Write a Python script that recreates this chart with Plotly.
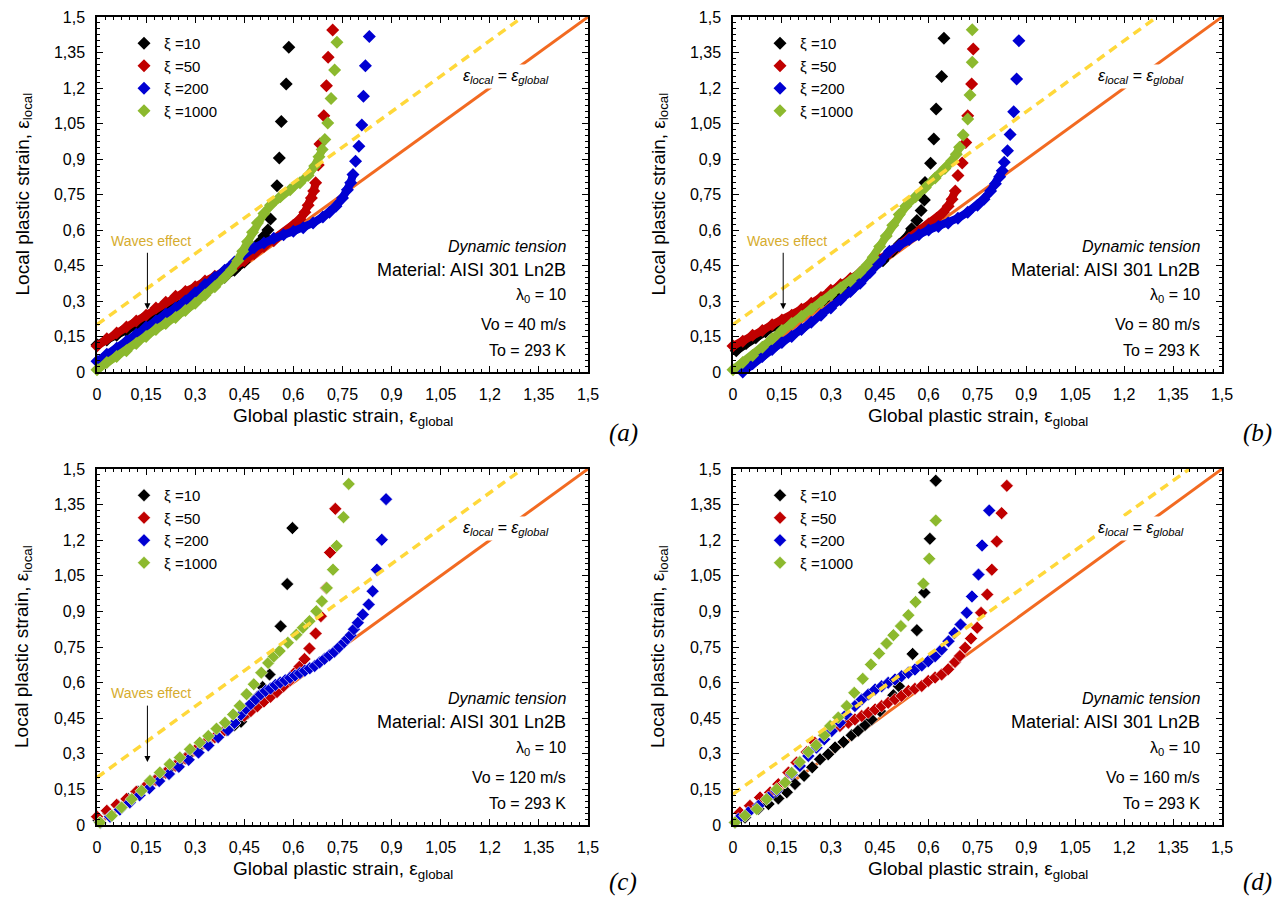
import plotly.graph_objects as go

# ---------------- shared labels ----------------
TICK_VALS = [0, 0.15, 0.3, 0.45, 0.6, 0.75, 0.9, 1.05, 1.2, 1.35, 1.5]
TICK_TEXT = ["0", "0,15", "0,3", "0,45", "0,6", "0,75", "0,9", "1,05", "1,2", "1,35", "1,5"]
SERIES_NAMES = ["ξ =10", "ξ =50", "ξ =200", "ξ =1000"]
PANEL_LABELS = ["(a)", "(b)", "(c)", "(d)"]
IMPACT_VELOCITY = ["40", "80", "120", "160"]

# reference lines
EQ_X = [0, 1.5]
EQ_Y = [0, 1.5]
WAVE_X_ABC = [0, 1.3]
WAVE_Y_ABC = [0.2, 1.5]
WAVE_X_D = [0, 1.40]
WAVE_Y_D = [0.13, 1.5]

# ---------------- panel (a): Vo = 40 m/s ----------------
A10_DENSE_X = [0.00, 0.03, 0.06, 0.09, 0.12, 0.15, 0.18, 0.21, 0.24, 0.27, 0.30, 0.33, 0.36, 0.39, 0.42, 0.45, 0.47, 0.49, 0.51]
A10_DENSE_Y = [0.115, 0.135, 0.155, 0.175, 0.195, 0.215, 0.235, 0.255, 0.275, 0.30, 0.325, 0.35, 0.375, 0.40, 0.43, 0.465, 0.50, 0.54, 0.575]
A10_SPARSE_X = [0.522, 0.530, 0.550, 0.557, 0.563, 0.578, 0.586]
A10_SPARSE_Y = [0.60, 0.646, 0.787, 0.904, 1.058, 1.217, 1.372]

A50_DENSE_X = [0.00, 0.03, 0.06, 0.09, 0.12, 0.15, 0.18, 0.21, 0.24, 0.27, 0.30, 0.33, 0.36, 0.39, 0.42, 0.45, 0.48, 0.51, 0.54, 0.57, 0.60, 0.62, 0.635, 0.645, 0.655, 0.662, 0.668]
A50_DENSE_Y = [0.11, 0.14, 0.165, 0.19, 0.215, 0.24, 0.27, 0.295, 0.32, 0.34, 0.36, 0.385, 0.405, 0.425, 0.445, 0.47, 0.50, 0.53, 0.555, 0.585, 0.62, 0.645, 0.675, 0.705, 0.735, 0.765, 0.80]
A50_SPARSE_X = [0.676, 0.681, 0.693, 0.701, 0.706, 0.720]
A50_SPARSE_Y = [0.875, 0.963, 1.083, 1.210, 1.330, 1.445]

A200_DENSE_X = [0.00, 0.03, 0.06, 0.09, 0.12, 0.15, 0.18, 0.21, 0.24, 0.27, 0.30, 0.33, 0.36, 0.39, 0.42, 0.45, 0.48, 0.51, 0.54, 0.57, 0.60, 0.63, 0.66, 0.69, 0.71, 0.73, 0.75, 0.765, 0.775, 0.782]
A200_DENSE_Y = [0.045, 0.075, 0.10, 0.13, 0.16, 0.19, 0.215, 0.245, 0.27, 0.30, 0.335, 0.37, 0.40, 0.43, 0.465, 0.50, 0.525, 0.545, 0.565, 0.58, 0.595, 0.61, 0.63, 0.655, 0.675, 0.70, 0.735, 0.77, 0.80, 0.835]
A200_SPARSE_X = [0.790, 0.800, 0.809, 0.814, 0.820, 0.832]
A200_SPARSE_Y = [0.890, 0.954, 1.044, 1.165, 1.294, 1.418]

A1000_DENSE_X = [0.00, 0.03, 0.06, 0.09, 0.12, 0.15, 0.18, 0.21, 0.24, 0.27, 0.30, 0.33, 0.36, 0.39, 0.41, 0.43, 0.445, 0.46, 0.475, 0.49, 0.51, 0.53, 0.56, 0.59, 0.62, 0.645, 0.665, 0.678, 0.688]
A1000_DENSE_Y = [0.01, 0.04, 0.065, 0.09, 0.12, 0.15, 0.18, 0.205, 0.23, 0.26, 0.29, 0.325, 0.36, 0.40, 0.43, 0.47, 0.51, 0.55, 0.59, 0.63, 0.67, 0.705, 0.74, 0.77, 0.80, 0.83, 0.87, 0.91, 0.94]
A1000_SPARSE_X = [0.696, 0.705, 0.715, 0.726, 0.733]
A1000_SPARSE_Y = [0.982, 1.052, 1.156, 1.276, 1.393]

# ---------------- panel (b): Vo = 80 m/s ----------------
B10_DENSE_X = [0.01, 0.04, 0.07, 0.10, 0.13, 0.16, 0.19, 0.22, 0.25, 0.28, 0.31, 0.34, 0.37, 0.40, 0.43, 0.46, 0.49, 0.51, 0.53, 0.548]
B10_DENSE_Y = [0.09, 0.12, 0.145, 0.17, 0.195, 0.215, 0.235, 0.26, 0.28, 0.305, 0.33, 0.355, 0.385, 0.41, 0.44, 0.47, 0.51, 0.54, 0.565, 0.605]
B10_SPARSE_X = [0.564, 0.577, 0.587, 0.589, 0.606, 0.616, 0.623, 0.640, 0.647]
B10_SPARSE_Y = [0.640, 0.682, 0.727, 0.801, 0.882, 0.985, 1.111, 1.249, 1.410]

B50_DENSE_X = [0.00, 0.03, 0.06, 0.09, 0.12, 0.15, 0.18, 0.21, 0.24, 0.27, 0.30, 0.33, 0.36, 0.39, 0.42, 0.45, 0.48, 0.51, 0.54, 0.57, 0.60, 0.625, 0.645, 0.66, 0.672, 0.682]
B50_DENSE_Y = [0.11, 0.13, 0.155, 0.175, 0.20, 0.22, 0.24, 0.265, 0.29, 0.315, 0.345, 0.37, 0.395, 0.42, 0.445, 0.475, 0.505, 0.535, 0.565, 0.595, 0.625, 0.65, 0.675, 0.70, 0.73, 0.765]
B50_SPARSE_X = [0.690, 0.703, 0.714, 0.720, 0.732, 0.737]
B50_SPARSE_Y = [0.830, 0.883, 0.970, 1.083, 1.217, 1.365]

B200_DENSE_X = [0.03, 0.06, 0.09, 0.12, 0.15, 0.18, 0.21, 0.24, 0.27, 0.30, 0.33, 0.36, 0.39, 0.42, 0.45, 0.48, 0.51, 0.54, 0.57, 0.60, 0.63, 0.66, 0.69, 0.72, 0.75, 0.77, 0.79, 0.805, 0.818, 0.826]
B200_DENSE_Y = [0.0, 0.035, 0.065, 0.095, 0.125, 0.15, 0.18, 0.21, 0.24, 0.27, 0.305, 0.34, 0.375, 0.42, 0.465, 0.51, 0.535, 0.56, 0.58, 0.60, 0.615, 0.63, 0.65, 0.675, 0.705, 0.73, 0.765, 0.795, 0.825, 0.85]
B200_SPARSE_X = [0.832, 0.842, 0.850, 0.861, 0.870, 0.877]
B200_SPARSE_Y = [0.886, 0.935, 1.003, 1.100, 1.238, 1.400]

B1000_DENSE_X = [0.00, 0.03, 0.06, 0.09, 0.12, 0.15, 0.18, 0.21, 0.24, 0.27, 0.30, 0.33, 0.36, 0.39, 0.41, 0.43, 0.45, 0.47, 0.49, 0.51, 0.53, 0.56, 0.59, 0.62, 0.65, 0.67, 0.685, 0.695]
B1000_DENSE_Y = [0.01, 0.04, 0.07, 0.105, 0.14, 0.175, 0.205, 0.235, 0.265, 0.295, 0.325, 0.355, 0.385, 0.42, 0.45, 0.485, 0.53, 0.575, 0.62, 0.665, 0.70, 0.74, 0.78, 0.82, 0.86, 0.89, 0.92, 0.95]
B1000_SPARSE_X = [0.706, 0.720, 0.727, 0.734, 0.734]
B1000_SPARSE_Y = [1.001, 1.069, 1.170, 1.309, 1.446]

# ---------------- panel (c): Vo = 120 m/s ----------------
C10_X = [0.005, 0.035, 0.065, 0.095, 0.125, 0.155, 0.185, 0.215, 0.245, 0.275, 0.305, 0.335, 0.365, 0.395, 0.42, 0.44, 0.46, 0.48, 0.49, 0.506, 0.527, 0.561, 0.581, 0.597]
C10_Y = [0.02, 0.05, 0.08, 0.11, 0.14, 0.17, 0.20, 0.23, 0.26, 0.29, 0.32, 0.345, 0.375, 0.40, 0.42, 0.435, 0.47, 0.51, 0.54, 0.581, 0.634, 0.837, 1.015, 1.251]

C50_X = [0.0, 0.03, 0.06, 0.09, 0.12, 0.15, 0.18, 0.21, 0.24, 0.27, 0.30, 0.33, 0.36, 0.39, 0.42, 0.45, 0.47, 0.49, 0.51, 0.53, 0.55, 0.57, 0.59, 0.604, 0.619, 0.634, 0.649, 0.668, 0.684, 0.700, 0.712, 0.728]
C50_Y = [0.035, 0.06, 0.085, 0.11, 0.14, 0.165, 0.19, 0.22, 0.25, 0.28, 0.315, 0.345, 0.37, 0.40, 0.43, 0.46, 0.48, 0.50, 0.52, 0.54, 0.56, 0.585, 0.61, 0.642, 0.668, 0.699, 0.744, 0.807, 0.880, 0.999, 1.148, 1.332]

C200_X = [0.01, 0.04, 0.07, 0.10, 0.13, 0.16, 0.19, 0.22, 0.25, 0.28, 0.31, 0.34, 0.37, 0.40, 0.42, 0.44,
          0.455, 0.47, 0.485, 0.50, 0.515, 0.53, 0.545, 0.56, 0.575, 0.59, 0.605, 0.62, 0.635, 0.65, 0.665, 0.68,
          0.695, 0.71, 0.725, 0.74, 0.755, 0.765, 0.775, 0.785, 0.797, 0.812, 0.830, 0.842, 0.855, 0.870, 0.883]
C200_Y = [0.01, 0.035, 0.065, 0.095, 0.125, 0.155, 0.185, 0.215, 0.245, 0.275, 0.305, 0.335, 0.37, 0.40, 0.43, 0.465,
          0.49, 0.51, 0.53, 0.55, 0.565, 0.575, 0.59, 0.60, 0.61, 0.62, 0.63, 0.64, 0.65, 0.66, 0.67, 0.685,
          0.70, 0.715, 0.73, 0.75, 0.77, 0.785, 0.80, 0.825, 0.852, 0.887, 0.929, 0.985, 1.076, 1.202, 1.373]

C1000_X = [0.009, 0.045, 0.075, 0.106, 0.136, 0.162, 0.192, 0.222, 0.253, 0.284, 0.314, 0.340, 0.365, 0.391, 0.416, 0.436, 0.457,
           0.479, 0.502, 0.523, 0.540, 0.558, 0.583, 0.609, 0.629, 0.649, 0.670, 0.687, 0.702, 0.721, 0.732, 0.753, 0.769]
C1000_Y = [0.011, 0.039, 0.074, 0.109, 0.144, 0.186, 0.221, 0.256, 0.284, 0.319, 0.347, 0.375, 0.406, 0.431, 0.466, 0.502, 0.551,
           0.593, 0.642, 0.683, 0.71, 0.733, 0.768, 0.802, 0.831, 0.859, 0.901, 0.943, 0.999, 1.076, 1.176, 1.297, 1.437]

# ---------------- panel (d): Vo = 160 m/s ----------------
D10_X = [0.006, 0.037, 0.078, 0.109, 0.139, 0.165, 0.190, 0.218, 0.243, 0.267, 0.292, 0.313, 0.339, 0.364, 0.384, 0.405, 0.425,
         0.451, 0.492, 0.509, 0.551, 0.564, 0.587, 0.604, 0.622]
D10_Y = [0.011, 0.032, 0.068, 0.088, 0.112, 0.138, 0.173, 0.207, 0.243, 0.277, 0.298, 0.327, 0.350, 0.378, 0.397, 0.421, 0.445,
         0.480, 0.547, 0.585, 0.721, 0.821, 0.980, 1.206, 1.451]

D50_X = [0.021, 0.052, 0.083, 0.114, 0.139, 0.170, 0.195, 0.226, 0.251, 0.280, 0.303, 0.328, 0.354, 0.374, 0.395, 0.415, 0.436,
         0.456, 0.476, 0.497, 0.517, 0.538, 0.558, 0.579, 0.599, 0.620, 0.640, 0.660, 0.681, 0.696, 0.712, 0.730, 0.749, 0.761,
         0.780, 0.794, 0.809, 0.824, 0.840]
D50_Y = [0.053, 0.081, 0.116, 0.137, 0.172, 0.221, 0.263, 0.308, 0.347, 0.378, 0.400, 0.417, 0.431, 0.445, 0.459, 0.473, 0.487,
         0.501, 0.515, 0.530, 0.544, 0.565, 0.574, 0.586, 0.607, 0.621, 0.634, 0.656, 0.687, 0.712, 0.747, 0.786, 0.831, 0.894,
         0.971, 1.076, 1.195, 1.314, 1.429]

D200_X = [0.016, 0.047, 0.078, 0.109, 0.134, 0.160, 0.180, 0.205, 0.231, 0.256, 0.280, 0.303, 0.328, 0.348, 0.374, 0.395, 0.415,
          0.436, 0.456, 0.476, 0.497, 0.517, 0.538, 0.558, 0.579, 0.599, 0.620, 0.640, 0.661, 0.679, 0.698, 0.717, 0.733, 0.753,
          0.764, 0.786]
D200_Y = [0.025, 0.053, 0.081, 0.116, 0.144, 0.179, 0.214, 0.249, 0.291, 0.326, 0.361, 0.396, 0.431, 0.466, 0.501, 0.529, 0.550,
          0.571, 0.585, 0.599, 0.613, 0.627, 0.641, 0.655, 0.672, 0.690, 0.711, 0.739, 0.774, 0.809, 0.845, 0.894, 0.963, 1.055,
          1.178, 1.325]

D1000_X = [0.006, 0.037, 0.073, 0.103, 0.134, 0.160, 0.180, 0.205, 0.231, 0.255, 0.280, 0.298, 0.323, 0.349, 0.372, 0.398, 0.423,
           0.448, 0.471, 0.492, 0.515, 0.538, 0.560, 0.584, 0.602, 0.622]
D1000_Y = [0.011, 0.039, 0.067, 0.109, 0.151, 0.179, 0.220, 0.265, 0.308, 0.336, 0.378, 0.417, 0.453, 0.501, 0.557, 0.616, 0.676,
           0.723, 0.765, 0.800, 0.838, 0.884, 0.940, 1.017, 1.122, 1.283]

# ---------------- styling ----------------
SCREEN_W, SCREEN_H = 1286, 905
OFF = 8  # default page margin around the plot div
FW, FH = SCREEN_W - 2 * OFF, SCREEN_H - 2 * OFF

COLORS = ["#000000", "#C00000", "#0000D2", "#8CB92E"]
ORANGE = "#F26A21"
YELLOW = "#FFD83A"
GOLD = "#D6AC2E"
SANS = "Liberation Sans, Arial, sans-serif"
SERIF = "Liberation Serif, Times New Roman, serif"

# intended on-screen pixel boxes of the four plot areas
COL_LEFT = [97, 733]
COL_RIGHT = [588, 1222]
ROW_TOP = [17, 469]
ROW_BOTTOM = [372, 825]


def px_x(px):
    return (px - OFF) / FW


def px_y(py):
    return 1 - (py - OFF) / FH


fig = go.Figure()

panels_dense = [
    [(A10_DENSE_X, A10_DENSE_Y, A10_SPARSE_X, A10_SPARSE_Y),
     (A50_DENSE_X, A50_DENSE_Y, A50_SPARSE_X, A50_SPARSE_Y),
     (A200_DENSE_X, A200_DENSE_Y, A200_SPARSE_X, A200_SPARSE_Y),
     (A1000_DENSE_X, A1000_DENSE_Y, A1000_SPARSE_X, A1000_SPARSE_Y)],
    [(B10_DENSE_X, B10_DENSE_Y, B10_SPARSE_X, B10_SPARSE_Y),
     (B50_DENSE_X, B50_DENSE_Y, B50_SPARSE_X, B50_SPARSE_Y),
     (B200_DENSE_X, B200_DENSE_Y, B200_SPARSE_X, B200_SPARSE_Y),
     (B1000_DENSE_X, B1000_DENSE_Y, B1000_SPARSE_X, B1000_SPARSE_Y)],
]
panels_points = [
    [(C10_X, C10_Y), (C50_X, C50_Y), (C200_X, C200_Y), (C1000_X, C1000_Y)],
    [(D10_X, D10_Y), (D50_X, D50_Y), (D200_X, D200_Y), (D1000_X, D1000_Y)],
]

MSIZE = 10


def axis_names(k):
    if k == 0:
        return "x", "y", "legend"
    return f"x{k+1}", f"y{k+1}", f"legend{k+1}"


for k in range(4):
    xr, yr, leg = axis_names(k)
    # y = x reference line (under the markers)
    fig.add_trace(go.Scatter(x=EQ_X, y=EQ_Y, mode="lines", line=dict(color=ORANGE, width=3),
                             xaxis=xr, yaxis=yr, showlegend=False, hoverinfo="skip"))
    for i in range(4):
        c = COLORS[i]
        if k < 2:
            dx, dy, sx, sy = panels_dense[k][i]
            fig.add_trace(go.Scatter(x=dx, y=dy, mode="lines+markers",
                                     line=dict(color=c, width=8),
                                     marker=dict(symbol="diamond", size=MSIZE, color=c),
                                     xaxis=xr, yaxis=yr, showlegend=False, cliponaxis=False))
            fig.add_trace(go.Scatter(x=sx, y=sy, mode="markers", name=SERIES_NAMES[i],
                                     marker=dict(symbol="diamond", size=MSIZE, color=c),
                                     xaxis=xr, yaxis=yr, legend=leg, showlegend=True, cliponaxis=False))
        else:
            px_, py_ = panels_points[k - 2][i]
            fig.add_trace(go.Scatter(x=px_, y=py_, mode="markers", name=SERIES_NAMES[i],
                                     marker=dict(symbol="diamond", size=MSIZE, color=c,
                                                 line=dict(color="white", width=0.6)),
                                     xaxis=xr, yaxis=yr, legend=leg, showlegend=True, cliponaxis=False))
    wx, wy = (WAVE_X_D, WAVE_Y_D) if k == 3 else (WAVE_X_ABC, WAVE_Y_ABC)
    fig.add_trace(go.Scatter(x=wx, y=wy, mode="lines", line=dict(color=YELLOW, width=3.5, dash="9px,6px"),
                             xaxis=xr, yaxis=yr, showlegend=False, hoverinfo="skip"))

axis_common = dict(
    range=[0, 1.5], tickmode="array", tickvals=TICK_VALS, ticktext=TICK_TEXT,
    ticks="inside", ticklen=6, tickwidth=1, tickcolor="black",
    showline=True, linecolor="black", linewidth=1.5, mirror="ticks",
    showgrid=False, zeroline=False, automargin=False,
    minor=dict(tickmode="linear", tick0=0, dtick=0.025, ticks="inside", ticklen=3,
               tickwidth=1, tickcolor="black", showgrid=False),
    tickfont=dict(family=SANS, size=16, color="black"),
    ticklabelstandoff=7,
)

layout_axes = {}
annotations = []
legends = {}
for k in range(4):
    col, row = k % 2, k // 2
    x0, x1 = px_x(COL_LEFT[col]), px_x(COL_RIGHT[col])
    y0, y1 = px_y(ROW_BOTTOM[row]), px_y(ROW_TOP[row])
    xr, yr, leg = axis_names(k)
    xname = "xaxis" if k == 0 else f"xaxis{k+1}"
    yname = "yaxis" if k == 0 else f"yaxis{k+1}"
    layout_axes[xname] = dict(axis_common, domain=[x0, x1], anchor=yr)
    layout_axes[yname] = dict(axis_common, domain=[y0, y1], anchor=xr)

    legends[leg] = dict(x=px_x(COL_LEFT[col] + 27), y=px_y(ROW_TOP[row] + 10),
                        xanchor="left", yanchor="top", bgcolor="rgba(0,0,0,0)",
                        font=dict(family=SANS, size=15, color="black"),
                        tracegroupgap=0, itemclick=False, itemdoubleclick=False)

    # axis titles
    annotations.append(dict(text="Local plastic strain, ε<sub>local</sub>", xref="paper", yref="paper",
                            x=px_x(COL_LEFT[col] - 74), y=(y0 + y1) / 2, textangle=-90, showarrow=False,
                            xanchor="center", yanchor="middle", font=dict(family=SANS, size=19, color="black")))
    annotations.append(dict(text="Global plastic strain, ε<sub>global</sub>", xref="paper", yref="paper",
                            x=(x0 + x1) / 2, y=px_y(ROW_BOTTOM[row] + 45), showarrow=False,
                            xanchor="center", yanchor="middle", font=dict(family=SANS, size=19, color="black")))
    # panel label (bottom row is kept inside the page)
    if row == 0:
        lab_y, lab_anchor = px_y(ROW_BOTTOM[row] + 61), "middle"
    else:
        lab_y, lab_anchor = 0.0, "bottom"
    annotations.append(dict(text=f"<i>{PANEL_LABELS[k]}</i>", xref="paper", yref="paper",
                            x=px_x(COL_RIGHT[col] + 35), y=lab_y, showarrow=False, borderpad=0,
                            xanchor="center", yanchor=lab_anchor, font=dict(family=SERIF, size=25, color="black")))
    # info block
    info = [("<i>Dynamic tension</i>", 0.532, 16),
            ("Material: AISI 301 Ln2B", 0.432, 18),
            ("λ<sub>0</sub> = 10", 0.322, 16),
            (f"Vo = {IMPACT_VELOCITY[k]} m/s", 0.201, 16),
            ("To = 293 K", 0.092, 16)]
    for txt, yy, fs in info:
        annotations.append(dict(text=txt, xref=xr, yref=yr, x=1.44, y=yy, showarrow=False,
                                xanchor="right", yanchor="middle", font=dict(family=SANS, size=fs, color="black")))
    # equality label
    annotations.append(dict(text="<i>ε<sub>local</sub> = ε<sub>global</sub></i>", xref=xr, yref=yr,
                            x=1.25, y=1.25, showarrow=False, xanchor="center", yanchor="middle",
                            bgcolor="white", borderpad=2,
                            font=dict(family=SANS, size=16, color="black")))
    if k < 3:
        annotations.append(dict(text="Waves effect", xref=xr, yref=yr, x=0.166, y=0.555, showarrow=False,
                                xanchor="center", yanchor="middle", font=dict(family=SANS, size=14, color=GOLD)))
        annotations.append(dict(text="", xref=xr, yref=yr, x=0.154, y=0.265, ax=0, ay=-58,
                                showarrow=True, arrowhead=2, arrowsize=1.2, arrowwidth=1, arrowcolor="black",
                                standoff=0))

fig.update_layout(
    width=FW, height=FH, margin=dict(l=0, r=0, t=0, b=0, autoexpand=False),
    paper_bgcolor="white", plot_bgcolor="white",
    font=dict(family=SANS, color="black"),
    annotations=annotations,
    **layout_axes, **legends,
)

fig.write_html("out.html")
